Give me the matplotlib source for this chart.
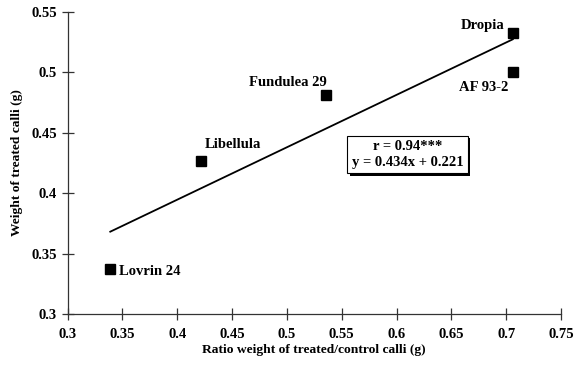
import matplotlib
matplotlib.use('Agg')
import matplotlib.pyplot as plt
import matplotlib.patheffects as pe
import numpy as np

matplotlib.rcParams['font.family'] = 'Liberation Serif'
matplotlib.rcParams['font.weight'] = 'bold'

# data
cultivars = ['Lovrin 24', 'Libellula', 'Fundulea 29', 'Dropia', 'AF 93-2']
ratio = [0.339, 0.422, 0.536, 0.706, 0.706]
weight = [0.337, 0.427, 0.481, 0.533, 0.500]
slope, intercept = 0.434, 0.221

# label offsets (pixels) and alignment for each cultivar
offsets = [(9, -2), (3, 16), (0, 13), (-8, 7), (-4, -15)]
aligns = ['left', 'left', 'right', 'right', 'right']

fig = plt.figure(figsize=(5.75, 3.72), dpi=100)
ax = fig.add_axes([0.1174, 0.156, 0.8583, 0.8117])

ax.plot(ratio, weight, 's', color='black', markersize=7)
xfit = np.array([min(ratio), max(ratio)])
ax.plot(xfit, slope * xfit + intercept, color='black', lw=1.3)

for name, x, y, off, ha in zip(cultivars, ratio, weight, offsets, aligns):
    ax.annotate(name, (x, y), xytext=off, textcoords='offset pixels',
                ha=ha, va='center', fontsize=10.5, fontweight='bold')

# equation box with drop shadow
eq = 'r = 0.94***\ny = 0.434x + 0.221'
t = ax.text(0.61, 0.432, eq, ha='center', va='center', fontsize=10.5,
            fontweight='bold', linespacing=1.3,
            bbox=dict(boxstyle='square,pad=0.3', fc='white', ec='black', lw=0.8))
t.get_bbox_patch().set_path_effects([
    pe.SimplePatchShadow(offset=(2, -2), shadow_rgbFace='black', alpha=1),
    pe.Normal()])

ax.set_xlim(0.3, 0.75)
ax.set_ylim(0.3, 0.55)
ax.set_xticks(np.arange(0.3, 0.751, 0.05))
ax.set_yticks(np.arange(0.3, 0.551, 0.05))
ax.set_xticklabels(['0.3', '0.35', '0.4', '0.45', '0.5', '0.55', '0.6', '0.65', '0.7', '0.75'])
ax.set_yticklabels(['0.3', '0.35', '0.4', '0.45', '0.5', '0.55'])
ax.tick_params(direction='inout', length=8, width=0.9, labelsize=10.5, color='#333333')
ax.tick_params(axis='x', pad=6)
for s in ['top', 'right']:
    ax.spines[s].set_visible(False)
for s in ['left', 'bottom']:
    ax.spines[s].set_color('#333333')
    ax.spines[s].set_linewidth(0.9)

ax.set_xlabel('Ratio weight of treated/control calli (g)', fontsize=9.7, fontweight='bold', labelpad=2)
ax.set_ylabel('Weight of treated calli (g)', fontsize=9.7, fontweight='bold', labelpad=6)

fig.savefig('out.png', dpi=100)
